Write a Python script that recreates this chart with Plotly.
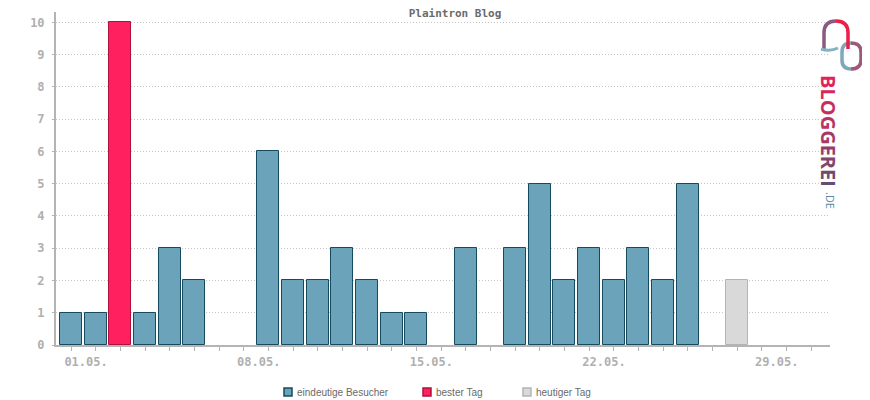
import plotly.graph_objects as go

# ---- data ----
days = list(range(1, 32))
visitors = [1, 1, 10, 1, 3, 2, 0, 0, 6, 2, 2, 3, 2, 1, 1, 0, 3, 0, 3, 5,
            2, 3, 2, 3, 2, 5, 0, 2, 0, 0, 0]
best_day = 3
today = 28
tick_days = [1, 8, 15, 22, 29]
tick_labels = ["01.05.", "08.05.", "15.05.", "22.05.", "29.05."]
series_names = ["eindeutige Besucher", "bester Tag", "heutiger Tag"]
series_fill = ["#6ba3ba", "#ff2060", "#d9d9d9"]
series_edge = ["#164a5f", "#b0103c", "#b4b4b4"]

normal_x = [d for d in days if d not in (best_day, today) and visitors[d - 1] > 0]
normal_y = [visitors[d - 1] for d in normal_x]

# window layout (the page body adds an 8px offset)
OFF = 8
W, H = 870 - OFF, 400 - OFF
L, R, T, B = 56, 830, 12, 345   # plot area in window pixels


def px(x):
    return (x - L) / (R - L)


def py(y):
    return (B - y) / (B - T)


fig = go.Figure()
groups = [(normal_x, normal_y), ([best_day], [visitors[best_day - 1]]), ([today], [visitors[today - 1]])]
for (gx, gy), name, fc, ec in zip(groups, series_names, series_fill, series_edge):
    fig.add_trace(go.Bar(x=gx, y=gy, name=name, width=0.9, showlegend=False,
                         marker=dict(color=fc, line=dict(color=ec, width=1))))

axis_gray = "#b4b4b4"
fig.update_layout(
    width=W, height=H,
    margin=dict(l=L - OFF, r=W - (R - OFF), t=T - OFF, b=H - (B - OFF), autoexpand=False),
    plot_bgcolor="white", paper_bgcolor="white",
    barmode="overlay",
    bargap=0,
    title=dict(text="<b>Plaintron Blog</b>", x=(455 - OFF) / W, xanchor="center",
               y=1 - 1.5 / H, yanchor="top", yref="container", pad=dict(t=0, b=0),
               font=dict(family="DejaVu Sans Mono", size=11, color="#6a6a6a")),
    xaxis=dict(range=[0.39, 31.77], tickvals=tick_days, ticktext=tick_labels,
               ticks="outside", ticklen=4, tickcolor=axis_gray, tickwidth=1,
               minor=dict(dtick=1, tick0=1, ticks="outside", ticklen=4, tickcolor=axis_gray),
               showline=True, linecolor=axis_gray, linewidth=2,
               showgrid=False, zeroline=False, automargin=False,
               ticklabelshift=15, ticklabelstandoff=1,
               tickfont=dict(family="DejaVu Sans Mono", size=12, color="#b0b0b0", weight="bold")),
    yaxis=dict(range=[0, 10.32], dtick=1, tick0=0,
               showline=True, linecolor=axis_gray, linewidth=2,
               showgrid=True, gridcolor="#c4c4c4", griddash="1px,2px", gridwidth=1,
               zeroline=False, ticks="outside", ticklen=2, tickcolor=axis_gray,
               ticklabelstandoff=5, automargin=False,
               tickfont=dict(family="DejaVu Sans Mono", size=12, color="#b0b0b0", weight="bold")),
    showlegend=False,
)

# manual legend
leg_x = [284, 423, 523]
for lx, name, fc, ec in zip(leg_x, series_names, series_fill, series_edge):
    fig.add_shape(type="rect", xref="paper", yref="paper",
                  x0=px(lx), x1=px(lx + 8), y0=py(388), y1=py(396),
                  line=dict(color=ec, width=1.5), fillcolor=fc)
    fig.add_annotation(xref="paper", yref="paper", x=px(lx + 11), y=py(392), text=name,
                       showarrow=False, xanchor="left", yanchor="middle",
                       font=dict(family="Liberation Sans", size=10, color="#6a6a6a"))

# Bloggerei logo (decorative)
letters = "BLOGGEREI"
cols = ["#e0245a", "#d6285d", "#c82e60", "#b83463", "#a63a66", "#943f69", "#82456c", "#72496f", "#644e72"]
txt = "".join(f'<span style="color:{c}">{ch}</span>' for ch, c in zip(letters, cols))
fig.add_annotation(xref="paper", yref="paper", x=px(829), y=py(131), text="<b>" + txt + "</b>",
                   textangle=90, showarrow=False, xanchor="center", yanchor="middle",
                   font=dict(family="Open Sans", size=20))
fig.add_annotation(xref="paper", yref="paper", x=px(830), y=py(200), text=".DE",
                   textangle=90, showarrow=False, xanchor="center", yanchor="middle",
                   font=dict(family="Open Sans", size=11, color="#5a88a8"))


def path(cmds):
    out = []
    for c in cmds:
        if isinstance(c, str):
            out.append(c)
        else:
            out.append(f"{px(c[0])},{py(c[1])}")
    return " ".join(out)


# right link (two halves)
fig.add_shape(type="path", xref="paper", yref="paper",
              path=path(["M", (851, 43), "Q", (842, 43), (842, 52), "L", (842, 60), "Q", (842, 69), (851, 69)]),
              line=dict(color="#7fa7b8", width=3.5))
fig.add_shape(type="path", xref="paper", yref="paper",
              path=path(["M", (851, 43), "Q", (861, 43), (861, 52), "L", (861, 60), "Q", (861, 69), (851, 69)]),
              line=dict(color="#a0587a", width=3.5))
# left arch
fig.add_shape(type="path", xref="paper", yref="paper",
              path=path(["M", (824, 49), "L", (824, 33), "Q", (824, 21), (836, 21)]),
              line=dict(color="#8a5a80", width=3.5))
fig.add_shape(type="path", xref="paper", yref="paper",
              path=path(["M", (836, 21), "Q", (848, 21), (848, 33), "L", (848, 49)]),
              line=dict(color="#e8204a", width=3.5))
fig.add_shape(type="path", xref="paper", yref="paper",
              path=path(["M", (821, 49), "Q", (830, 52), (838, 48)]),
              line=dict(color="#80b2c2", width=3))

fig.write_html("out.html")
